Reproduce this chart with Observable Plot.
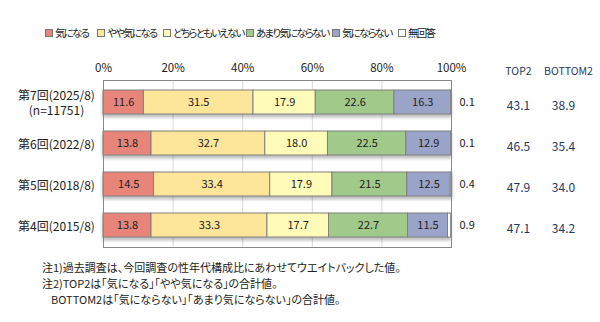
<!DOCTYPE html>
<html><head><meta charset="utf-8">
<script src="https://cdn.jsdelivr.net/npm/d3@7"></script>
<script src="https://cdn.jsdelivr.net/npm/@observablehq/plot@0.6"></script>
<style>
body{margin:0;background:#fff;font-family:"Noto Sans CJK JP","Noto Sans",sans-serif;font-feature-settings:"palt";}
svg{font-feature-settings:"palt";}
#wrap{position:relative;width:600px;height:322px;}
#legend{position:absolute;left:0;top:25px;width:600px;height:16px;font-size:10.5px;color:#222;white-space:nowrap;}
#legend .it{position:absolute;top:0;display:flex;align-items:center;gap:2px;letter-spacing:-1.8px;}
#legend .sw{width:6px;height:6px;border:1px solid #777;}
#notes{position:absolute;left:42px;top:259px;font-size:11px;color:#222;line-height:16px;}
</style></head><body>
<div id="wrap"><div id="legend"></div><div id="chart"></div>
<div id="notes"><div>注1)過去調査は、今回調査の性年代構成比にあわせてウエイトバックした値。</div><div>注2)TOP2は｢気になる｣｢やや気になる｣の合計値。</div><div style="padding-left:9px">BOTTOM2は｢気にならない｣｢あまり気にならない｣の合計値。</div></div>
</div>
<script>
const periods = ["第7回(2025/8)", "第6回(2022/8)", "第5回(2018/8)", "第4回(2015/8)"];
const periodLabels = ["第7回(2025/8)\n(n=11751)", "第6回(2022/8)", "第5回(2018/8)", "第4回(2015/8)"];
const categories = ["気になる", "やや気になる", "どちらともいえない", "あまり気にならない", "気にならない", "無回答"];
const colors = ["#E8857A", "#FDE599", "#FFFBB8", "#A0C98A", "#9AA3C8", "#FFFFFF"];
const values = [
  [11.6, 31.5, 17.9, 22.6, 16.3, 0.1],
  [13.8, 32.7, 18.0, 22.5, 12.9, 0.1],
  [14.5, 33.4, 17.9, 21.5, 12.5, 0.4],
  [13.8, 33.3, 17.7, 22.7, 11.5, 0.9]
];
const top2 = ["43.1", "46.5", "47.9", "47.1"];
const bottom2 = ["38.9", "35.4", "34.0", "34.2"];
const xTicks = [0, 20, 40, 60, 80, 100];
const legendX = [45, 97, 163, 246, 332, 398];

const data = [];
periods.forEach((p, i) => categories.forEach((c, j) => data.push({period: p, cat: c, value: values[i][j]})));
const summary = periods.map((p, i) => ({period: p, top2: top2[i], bottom2: bottom2[i], na: values[i][5].toFixed(1)}));

// legend
const lg = document.getElementById("legend");
categories.forEach((c, j) => {
  const it = document.createElement("div"); it.className = "it"; it.style.left = legendX[j] + "px";
  const sw = document.createElement("div"); sw.className = "sw"; sw.style.background = colors[j];
  const tx = document.createElement("span"); tx.textContent = c;
  it.append(sw, tx); lg.append(it);
});

const font = "Noto Sans CJK JP";
const chart = Plot.plot({
  width: 600, height: 322,
  marginTop: 80, marginBottom: 75, marginLeft: 103, marginRight: 149,
  style: {fontFamily: font, fontSize: "12px", color: "#222", background: "transparent", overflow: "visible"},
  x: {domain: [0, 100], ticks: xTicks, label: null},
  y: {domain: periods, paddingInner: 0.41, paddingOuter: 0.21, label: null},
  color: {domain: categories, range: colors},
  marks: [
    Plot.axisX({anchor: "top", ticks: xTicks, tickFormat: d => d + "%", tickSize: 0, tickPadding: 9, label: null, fontSize: 11.5}),
    Plot.axisY({tickSize: 0, tickPadding: 47, textAnchor: "middle", lineHeight: 1.3, label: null, fontSize: 12,
      tickFormat: d => periodLabels[periods.indexOf(d)]}),
    Plot.ruleX(xTicks.slice(1, -1), {stroke: "#d9d9d9"}),
    Plot.barX(data, Plot.stackX({x: "value", y: "period", fill: "cat", order: categories, stroke: "#808080", strokeWidth: 1, inset: 0})),
    Plot.frame({stroke: "#888"}),
    Plot.textX(data, Plot.stackX({x: "value", y: "period", z: "cat", order: categories,
      text: d => d.cat === "無回答" ? null : d.value.toFixed(1), fill: "#222", fontSize: 11})),
    Plot.text(summary, {y: "period", text: "na", frameAnchor: "right", dx: 8, textAnchor: "start", fill: "#222", fontSize: 11}),
    Plot.text(summary, {y: "period", text: "top2", frameAnchor: "right", textAnchor: "middle", dx: 67, dy: 4, fill: "#1f3864", fontSize: 12}),
    Plot.text(summary, {y: "period", text: "bottom2", frameAnchor: "right", textAnchor: "middle", dx: 112, dy: 4, fill: "#1f3864", fontSize: 12}),
    Plot.text(["TOP2"], {frameAnchor: "top-right", textAnchor: "middle", dx: 67, dy: -13, fill: "#1f3864", fontSize: 10.5}),
    Plot.text(["BOTTOM2"], {frameAnchor: "top-right", textAnchor: "middle", dx: 117, dy: -13, fill: "#1f3864", fontSize: 10.5})
  ]
});
chart.querySelectorAll("g[aria-label='bar']").forEach(g => g.style.filter = "drop-shadow(0px 3px 1.5px rgba(0,0,0,0.25))");
document.getElementById("chart").append(chart);
</script>
</body></html>
